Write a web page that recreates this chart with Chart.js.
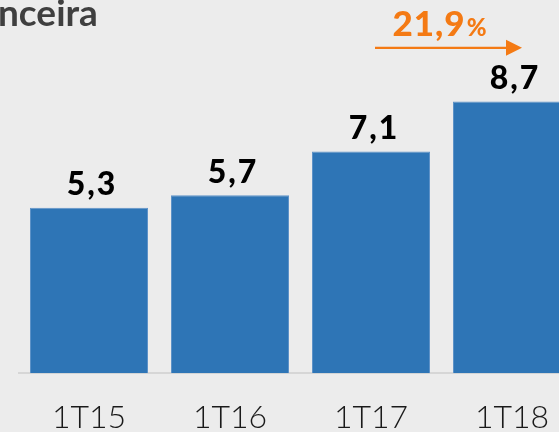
<!DOCTYPE html>
<html>
<head>
<meta charset="utf-8">
<script src="https://cdn.jsdelivr.net/npm/chart.js@4"></script>
<style>
  html, body { margin: 0; padding: 0; background: #ececec; overflow: hidden; }
  #wrap { position: relative; width: 600px; height: 432px; }
</style>
</head>
<body>
<div id="wrap"><canvas id="chart" width="600" height="432"></canvas></div>
<script>
// 数据：季度与数值（百万）
const categories = ['1T15', '1T16', '1T17', '1T18']
const values = [5.3, 5.7, 7.1, 8.7]
const growthText = '21,9'
const growthUnit = '%'
const titleText = 'nceira'

const BAR_BLUE = '#2e75b6'
const ORANGE = '#f47a14'

// 数值格式：逗号作小数点
const fmt = (v) => v.toFixed(1).replace('.', ',')

// 自定义绘制：标题、柱顶数值、增长箭头
const overlayPlugin = {
  id: 'overlay',
  afterDatasetsDraw (chart) {
    const ctx = chart.ctx
    const meta = chart.getDatasetMeta(0)
    const xs = chart.scales.x
    const top = chart.chartArea.top

    ctx.save()
    // 左上角标题（被裁剪的文字）
    ctx.fillStyle = '#3f3f3f'
    ctx.font = 'bold 37px Lato'
    ctx.textAlign = 'left'
    ctx.textBaseline = 'alphabetic'
    ctx.fillText(titleText, -2, 26)

    // 柱顶数值
    ctx.fillStyle = '#000'
    ctx.font = '900 32px Lato'
    ctx.letterSpacing = '2px'
    ctx.textAlign = 'center'
    meta.data.forEach((bar, i) => {
      ctx.fillText(fmt(values[i]), bar.x + 3, bar.y - 12.5)
    })
    ctx.letterSpacing = '0px'

    // 增长箭头
    const x0 = xs.getPixelForValue(2) + 4
    const x1 = xs.getPixelForValue(3) + 10
    const ay = top - 13
    ctx.strokeStyle = ORANGE
    ctx.fillStyle = ORANGE
    ctx.lineWidth = 2.2
    ctx.beginPath()
    ctx.moveTo(x0, ay)
    ctx.lineTo(x1 - 14, ay)
    ctx.stroke()
    ctx.beginPath()
    ctx.moveTo(x1 - 16, ay - 8)
    ctx.lineTo(x1, ay)
    ctx.lineTo(x1 - 16, ay + 8)
    ctx.closePath()
    ctx.fill()

    // 增长率文字
    ctx.textAlign = 'left'
    ctx.letterSpacing = '1px'
    ctx.font = '900 35px Lato'
    const w1 = ctx.measureText(growthText).width
    ctx.font = '900 24px Lato'
    const w2 = ctx.measureText(growthUnit).width
    const tx = (x0 + x1) / 2 - (w1 + w2) / 2 - 9
    ctx.font = '900 35px Lato'
    ctx.fillText(growthText, tx, 36)
    ctx.font = '900 24px Lato'
    ctx.fillText(growthUnit, tx + w1 + 1, 36)
    ctx.restore()
  }
}

new Chart(document.getElementById('chart'), {
  type: 'bar',
  data: {
    labels: categories,
    datasets: [{
      data: values,
      backgroundColor: BAR_BLUE,
      borderColor: '#5f93c8',
      borderWidth: 1,
      barPercentage: 0.837,
      categoryPercentage: 1
    }]
  },
  options: {
    responsive: false,
    animation: false,
    layout: { padding: { left: 18.5, right: 17.5, top: 60.8, bottom: 0 } },
    plugins: { legend: { display: false }, tooltip: { enabled: false }, title: { display: false } },
    scales: {
      x: {
        grid: { display: false, drawTicks: false },
        border: { display: true, color: '#d6d6d6', width: 2 },
        ticks: { color: '#1a1a1a', font: { family: 'Lato', weight: '300', size: 32 }, padding: 25 },
        afterFit (scale) { scale.height = 58.7 }
      },
      y: { display: false, min: 0, max: 10 }
    }
  },
  plugins: [overlayPlugin]
})
</script>
</body>
</html>
